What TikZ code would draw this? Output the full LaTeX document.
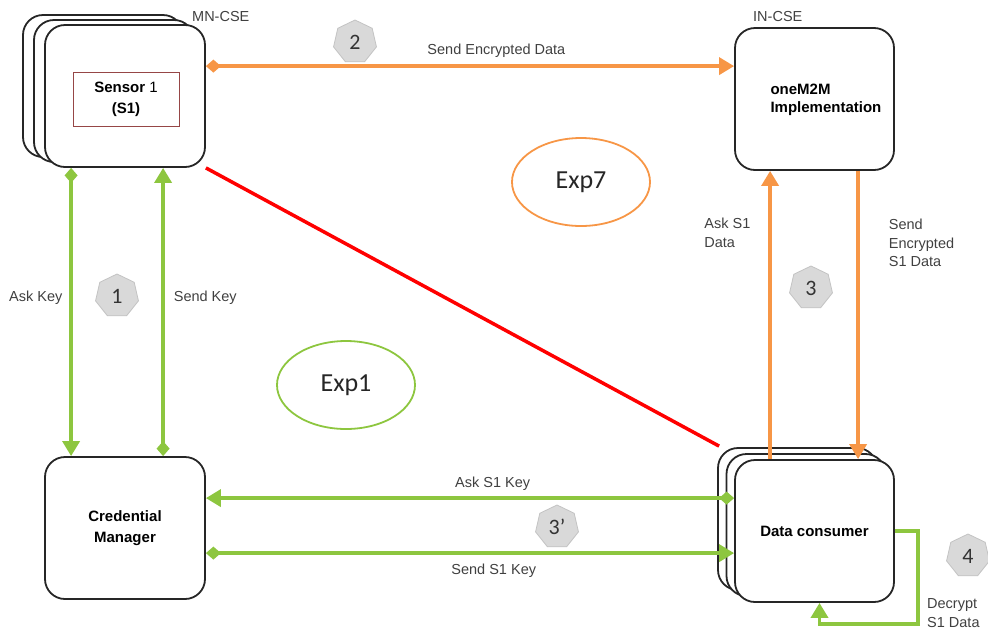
\documentclass[tikz,border=0pt]{standalone}
\usepackage{fontspec}
\setmainfont{Liberation Sans}
\newfontfamily\calibri{Carlito}
\usepackage{tikz}
\usetikzlibrary{arrows.meta, shapes.geometric, shadows, calc}

\definecolor{keygreen}{RGB}{141,198,63}
\definecolor{dataorange}{RGB}{247,150,70}
\definecolor{attackred}{RGB}{255,0,0}
\definecolor{boxred}{RGB}{150,70,70}
\definecolor{lbltext}{RGB}{64,64,64}
\definecolor{badgefill}{RGB}{217,217,217}
\definecolor{badgeline}{RGB}{195,195,195}

\begin{document}
\begin{tikzpicture}[
            x=1pt, y=-1pt,
            ent/.style={draw=black!85, line width=1.8pt, fill=white, rounded corners=20pt, minimum width=160pt, minimum height=142pt, font=\fontsize{15}{21}\selectfont\bfseries, align=center},
            stack/.style 2 args={double copy shadow={shadow xshift=#1, shadow yshift=#2, draw=black!85, line width=1.8pt, fill=white}},
            greenmsg/.style={keygreen, line width=3.5pt},
            orangemsg/.style={dataorange, line width=3.5pt},
            attack/.style={attackred, line width=3.5pt},
            tip/.style={-{Triangle[length=15pt,width=17pt]}},
            dtip/.style={{Diamond[length=15pt,width=13pt]}-{Triangle[length=15pt,width=17pt]}},
            lbl/.style={inner sep=2pt, text=lbltext, font=\fontsize{14.5}{18.5}\selectfont},
            badge/.style={regular polygon, regular polygon sides=7, minimum size=44pt, inner sep=0pt, fill=badgefill, draw=badgeline, line width=0.8pt, text=black!80, font=\calibri\fontsize{22}{24}\selectfont},
            expl/.style={ellipse, line width=1.8pt, minimum width=138pt, minimum height=88pt, text=black!85, font=\calibri\fontsize{26}{30}\selectfont}
        ]
        \useasboundingbox (0,0) rectangle (988,630);

        % 1. Entities
        \node[ent, stack={-11pt}{5pt}] (sensor) at (125,96) {};
        \node[draw=boxred, line width=1pt, minimum width=106pt, minimum height=54pt, align=center, font=\fontsize{15}{21}\selectfont] (sensorlbl) at (126,99) {\textbf{Sensor} 1\\\textbf{(S1)}};
        \node[ent, minimum width=159pt] (impl) at (814.5,99) {};
        \node[anchor=west, align=left, font=\fontsize{15}{18}\selectfont\bfseries] (impltxt) at (767,100) {oneM2M\\Implementation};
        \node[ent] (cm) at (125,528) {Credential\\Manager};
        \node[ent, minimum width=159pt, stack={-8.5pt}{6pt}] (dc) at (814.5,531) {Data consumer};

        % 2. Platform labels
        \node[lbl, anchor=west] (mncse) at (190,17) {MN-CSE};
        \node[lbl, anchor=west] (incse) at (751,17) {IN-CSE};

        % 3. Experiments
        \node[expl, draw=keygreen] (exp1) at (346,385) {Exp1};
        \node[expl, draw=dataorange] (exp7) at (581,182) {Exp7};

        % --- DATA PATH (orange) ---
        \draw[orangemsg, dtip] ([yshift=-42pt]sensor.north east) -- ([yshift=-39pt]impl.north west)
            node[lbl, pos=0.55, above=5pt] {Send Encrypted Data};
        \draw[orangemsg, tip] ([xshift=36pt]dc.north west) -- ([xshift=36pt]impl.south west)
            node[lbl, pos=0.786, left=16pt, align=left] {Ask S1\\Data};
        \draw[orangemsg, tip] ([xshift=124pt]impl.south west) -- ([xshift=124pt]dc.north west)
            node[lbl, pos=0.25, right=27pt, align=left] {Send\\Encrypted\\S1 Data};

        % --- ATTACK (red) ---
        \draw[attack] (sensor.south east) -- ([xshift=-15pt,yshift=13pt]dc.north west);

        % --- KEY PATH (green) ---
        \draw[greenmsg, dtip] ([xshift=27pt]sensor.south west) -- ([xshift=27pt]cm.north west)
            node[lbl, pos=0.45, left=5pt] {Ask Key};
        \draw[greenmsg, dtip] ([xshift=119pt]cm.north west) -- ([xshift=119pt]sensor.south west)
            node[lbl, pos=0.55, right=7pt] {Send Key};
        \draw[greenmsg, dtip] ([yshift=-39pt]dc.north west) -- ([yshift=-42pt]cm.north east)
            node[lbl, pos=0.457, above=4pt] {Ask S1 Key};
        \draw[greenmsg, dtip] ([yshift=-97pt]cm.north east) -- ([yshift=-94pt]dc.north west)
            node[lbl, pos=0.545, below=7pt] {Send S1 Key};
        \draw[greenmsg, tip] (dc.east) -- ++(23,0) |- ([xshift=5pt,yshift=-21pt]dc.south) -- ([xshift=5pt]dc.south);
        \node[lbl, anchor=west, align=left] (decryptlbl) at (925,613) {Decrypt\\S1 Data};

        % --- STEP BADGES ---
        \node[badge] (b1) at (117,296) {1};
        \node[badge] (b2) at (355,42) {2};
        \node[badge] (b3) at (811,288) {3};
        \node[badge] (b3p) at (557,527) {3’};
        \node[badge] (b4) at (968,556) {4};

        \end{tikzpicture}
\end{document}
